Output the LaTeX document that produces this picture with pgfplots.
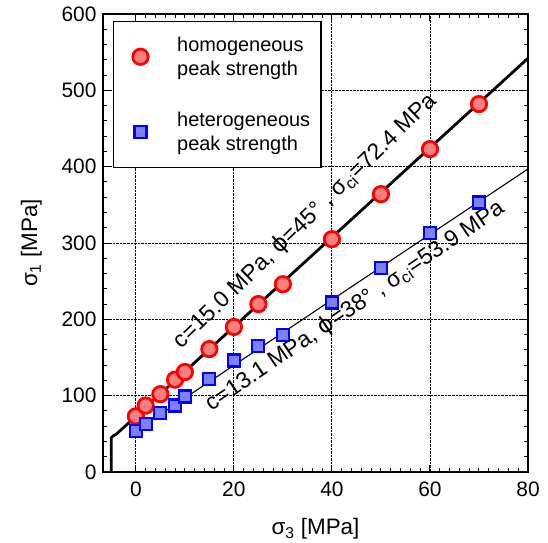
\documentclass[border=0pt]{standalone}
\usepackage{pgfplots}
\pgfplotsset{compat=1.18}
\usetikzlibrary{calc}
\usepackage{fontspec}
\setmainfont{Liberation Sans}
\newfontfamily\dejavu{DejaVu Sans}
\definecolor{mkred}{RGB}{255,0,0}
\definecolor{mkredfill}{RGB}{250,128,128}
\definecolor{mkblue}{RGB}{0,0,255}
\definecolor{mkbluefill}{RGB}{128,128,255}
\pgfplotsset{mylegimg/.style={legend image code/.code={\path (0bp,0bp) (40bp,0bp); \draw[##1] plot coordinates {(17bp,0bp)};}}}
\begin{document}
\begin{tikzpicture}
\begin{axis}[
  scale only axis, width=425bp, height=458bp,
  xmin=-6.7, xmax=80, ymin=0, ymax=600,
  xtick={0,20,40,60,80}, ytick={0,100,200,300,400,500,600},
  minor x tick num=9, minor y tick num=4,
  tick align=inside,
  major tick length=7bp, minor tick length=4bp,
  every tick/.style={black, line width=1pt},
  grid=major,
  major grid style={black, densely dotted, line width=0.9pt},
  axis line style={line width=1.8pt},
  /pgf/number format/assume math mode=true,
  tick label style={font=\fontsize{21}{25}\selectfont},
  xticklabel style={yshift=-6bp},
  yticklabel style={xshift=-3bp},
  label style={font=\fontsize{22.5}{27}\selectfont},
  xlabel style={yshift=-15bp},
  ylabel style={yshift=13bp},
  xlabel={σ\textsubscript{3} [MPa]},
  ylabel={σ\textsubscript{1} [MPa]},
  legend style={at={(0.0235,0.985)}, anchor=north west, draw=black, line width=1.5pt,
    font=\fontsize{20}{24.5}\selectfont, cells={align=left, anchor=west},
    inner xsep=9bp, inner ysep=13bp, row sep=31bp, column sep=11bp},
]
\addplot[only marks, mark=*, mark size=7.7bp, mark options={draw=mkred, fill=mkredfill, line width=2.8bp}, mylegimg]
  coordinates {(0,73) (2,87) (5,102) (8,121) (10,131) (15,161) (20,190) (25,220) (30,246) (40,305) (50,364) (60,423) (70,482)};
\addlegendentry{homogeneous\\peak strength}
\addplot[only marks, mark=square*, mark size=6bp, mark options={draw=mkblue, fill=mkbluefill, line width=2.2bp}, mylegimg]
  coordinates {(0,54) (2,63) (5,77) (8,87) (10,99) (15,122) (20,146) (25,165) (30,179) (40,222) (50,267) (60,313) (70,353)};
\addlegendentry{heterogeneous\\peak strength}
\addplot[black, line width=2.8bp, line join=round, forget plot]
  coordinates {(-5,0) (-5,45) (-4.6,47.5) (-4,49.5) (80,542)};
\addplot[black, line width=1.1bp, forget plot]
  coordinates {(0,54) (80,397)};
\node[rotate=44, font=\fontsize{23}{27}\selectfont] at (axis cs:34.6,328.6)
  {c=15.0 MPa, {\dejavu ϕ}=45° , σ\textsubscript{ci}=72.4 MPa};
\node[rotate=34.2, font=\fontsize{23}{27}\selectfont] at (axis cs:44.7,216.9)
  {c=13.1 MPa, {\dejavu ϕ}=38° , σ\textsubscript{ci}=53.9 MPa};
\end{axis}
\pgfresetboundingbox
\path[use as bounding box] ($(current axis.south west)+(-103bp,-71bp)$) rectangle ($(current axis.north east)+(20bp,14bp)$);
\end{tikzpicture}
\end{document}
